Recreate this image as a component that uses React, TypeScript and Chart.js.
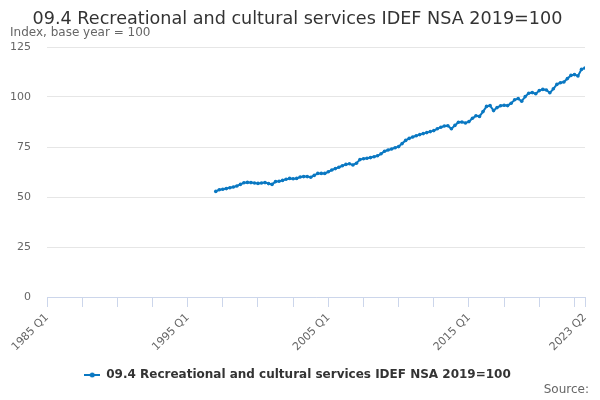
import React, { useEffect, useRef } from "react";
import { Chart, registerables } from "chart.js";

Chart.register(...registerables);

const TITLE = "09.4 Recreational and cultural services IDEF NSA 2019=100";
const SUBTITLE = "Index, base year = 100";
const SERIES_NAME = "09.4 Recreational and cultural services IDEF NSA 2019=100";
const SOURCE = "Source:";

const firstYear = 1985;
const lastYear = 2023;
const lastQuarter = 2;

// Quarter categories, 1985 Q1 .. 2023 Q2
const categories: string[] = [];
for (let y = firstYear; y <= lastYear; y++) {
  for (let q = 1; q <= 4; q++) {
    if (y === lastYear && q > lastQuarter) break;
    categories.push(`${y} Q${q}`);
  }
}

const seriesStart = "1997 Q1";

const values: number[] = [
  52.8, 53.6, 53.9, 54.2, 54.6, 55.0, 55.5, 56.3, 57.1, 57.3,
  57.2, 57.0, 56.8, 57.0, 57.2, 56.7, 56.3, 57.7, 57.9, 58.3,
  58.9, 59.3, 59.1, 59.3, 60.0, 60.2, 60.2, 59.9, 60.8, 61.8,
  61.8, 61.8, 62.6, 63.5, 64.2, 64.9, 65.6, 66.3, 66.6, 66.0,
  66.9, 68.7, 69.1, 69.4, 69.7, 70.1, 70.6, 71.6, 72.9, 73.5,
  74.0, 74.6, 75.2, 76.7, 78.3, 79.3, 80.0, 80.6, 81.2, 81.7,
  82.2, 82.7, 83.2, 84.1, 84.9, 85.5, 85.6, 84.1, 85.8, 87.4,
  87.5, 87.0, 87.7, 89.4, 90.6, 90.3, 92.7, 95.3, 95.7, 93.2,
  94.7, 95.6, 95.9, 95.7, 96.9, 98.6, 99.2, 97.9, 100.2, 101.9,
  102.2, 101.6, 103.2, 103.8, 103.5, 102.1, 104.1, 106.3, 107.1, 107.5,
  109.2, 110.8, 111.2, 110.5, 113.8, 114.5,
];

const tickLabels = ["1985 Q1", "1995 Q1", "2005 Q1", "2015 Q1", "2023 Q2"];
const tickMarkStep = 10; // quarters between tick marks
const yTicks = [0, 25, 50, 75, 100, 125];

const COLOR = "#0a78c2";
const FONT = "DejaVu Sans";

function makeLegendSymbol(): HTMLCanvasElement {
  const c = document.createElement("canvas");
  c.width = 16;
  c.height = 8;
  const ctx = c.getContext("2d")!;
  ctx.strokeStyle = COLOR;
  ctx.lineWidth = 2;
  ctx.beginPath();
  ctx.moveTo(0, 4);
  ctx.lineTo(16, 4);
  ctx.stroke();
  ctx.fillStyle = COLOR;
  ctx.beginPath();
  ctx.arc(8, 4, 2.5, 0, Math.PI * 2);
  ctx.fill();
  return c;
}

export default function App() {
  const ref = useRef<HTMLCanvasElement | null>(null);

  useEffect(() => {
    if (!ref.current) return;
    const startIdx = categories.indexOf(seriesStart);
    const data = values.map((v, k) => ({ x: startIdx + k, y: v }));
    const lastIdx = categories.length - 1;
    const tickIdx: number[] = [];
    for (let i = 0; i < lastIdx; i += tickMarkStep) tickIdx.push(i);
    tickIdx.push(lastIdx);

    const sourcePlugin = {
      id: "sourceText",
      afterDraw(chart: any) {
        const ctx = chart.ctx;
        ctx.save();
        ctx.font = `12px "${FONT}"`;
        ctx.fillStyle = "#666666";
        ctx.textAlign = "right";
        ctx.textBaseline = "middle";
        ctx.fillText(SOURCE, 589, 390);
        ctx.restore();
      },
    };

    const chart = new Chart(ref.current, {
      type: "line",
      data: {
        datasets: [
          {
            label: SERIES_NAME,
            data,
            borderColor: COLOR,
            backgroundColor: COLOR,
            borderWidth: 2,
            pointRadius: 1.8,
            pointBorderWidth: 0,
            pointBackgroundColor: COLOR,
            tension: 0,
          },
        ],
      },
      options: {
        animation: false,
        responsive: false,
        maintainAspectRatio: false,
        devicePixelRatio: 1,
        layout: { padding: { left: 10, right: 15, top: 0, bottom: 9 } },
        plugins: {
          title: {
            display: true,
            text: TITLE,
            color: "#333333",
            font: { family: FONT, size: 17.6, weight: "normal", lineHeight: 1 },
            padding: { top: 11, bottom: 0 },
          },
          subtitle: {
            display: true,
            text: SUBTITLE,
            align: "start",
            color: "#666666",
            font: { family: FONT, size: 12, weight: "normal", lineHeight: 0.75 },
            padding: { top: 0, bottom: 9.4 },
          },
          legend: {
            display: true,
            position: "bottom",
            labels: {
              usePointStyle: true,
              pointStyle: makeLegendSymbol(),
              pointStyleWidth: 16,
              color: "#333333",
              font: { family: FONT, size: 12, weight: "bold" },
              padding: 10,
            },
          },
          tooltip: { enabled: false },
        },
        scales: {
          x: {
            type: "linear",
            min: 0,
            max: lastIdx,
            afterBuildTicks: (scale: any) => {
              scale.ticks = tickIdx.map((v) => ({ value: v }));
            },
            afterFit: (scale: any) => {
              scale.height = 62;
            },
            grid: {
              display: true,
              drawOnChartArea: false,
              drawTicks: true,
              tickLength: 10,
              color: "#ccd6eb",
            },
            border: { display: true, color: "#ccd6eb" },
            ticks: {
              autoSkip: false,
              maxRotation: 45,
              minRotation: 45,
              padding: 4,
              color: "#666666",
              font: { family: FONT, size: 11 },
              callback: (v: any) => {
                const lbl = categories[Number(v)];
                return tickLabels.includes(lbl) ? lbl : "";
              },
            },
          },
          y: {
            min: 0,
            max: 125,
            afterBuildTicks: (scale: any) => {
              scale.ticks = yTicks.map((v) => ({ value: v }));
            },
            afterFit: (scale: any) => {
              scale.width = 37;
            },
            grid: { color: "#e6e6e6", drawTicks: false },
            border: { display: false },
            ticks: {
              padding: 16,
              color: "#666666",
              font: { family: FONT, size: 11 },
            },
          },
        },
      },
      plugins: [sourcePlugin],
    });
    return () => chart.destroy();
  }, []);

  return (
    <div style={{ position: "absolute", left: 0, top: 0, width: 600, height: 400 }}>
      <canvas ref={ref} width={600} height={400} style={{ width: 600, height: 400 }} />
    </div>
  );
}
